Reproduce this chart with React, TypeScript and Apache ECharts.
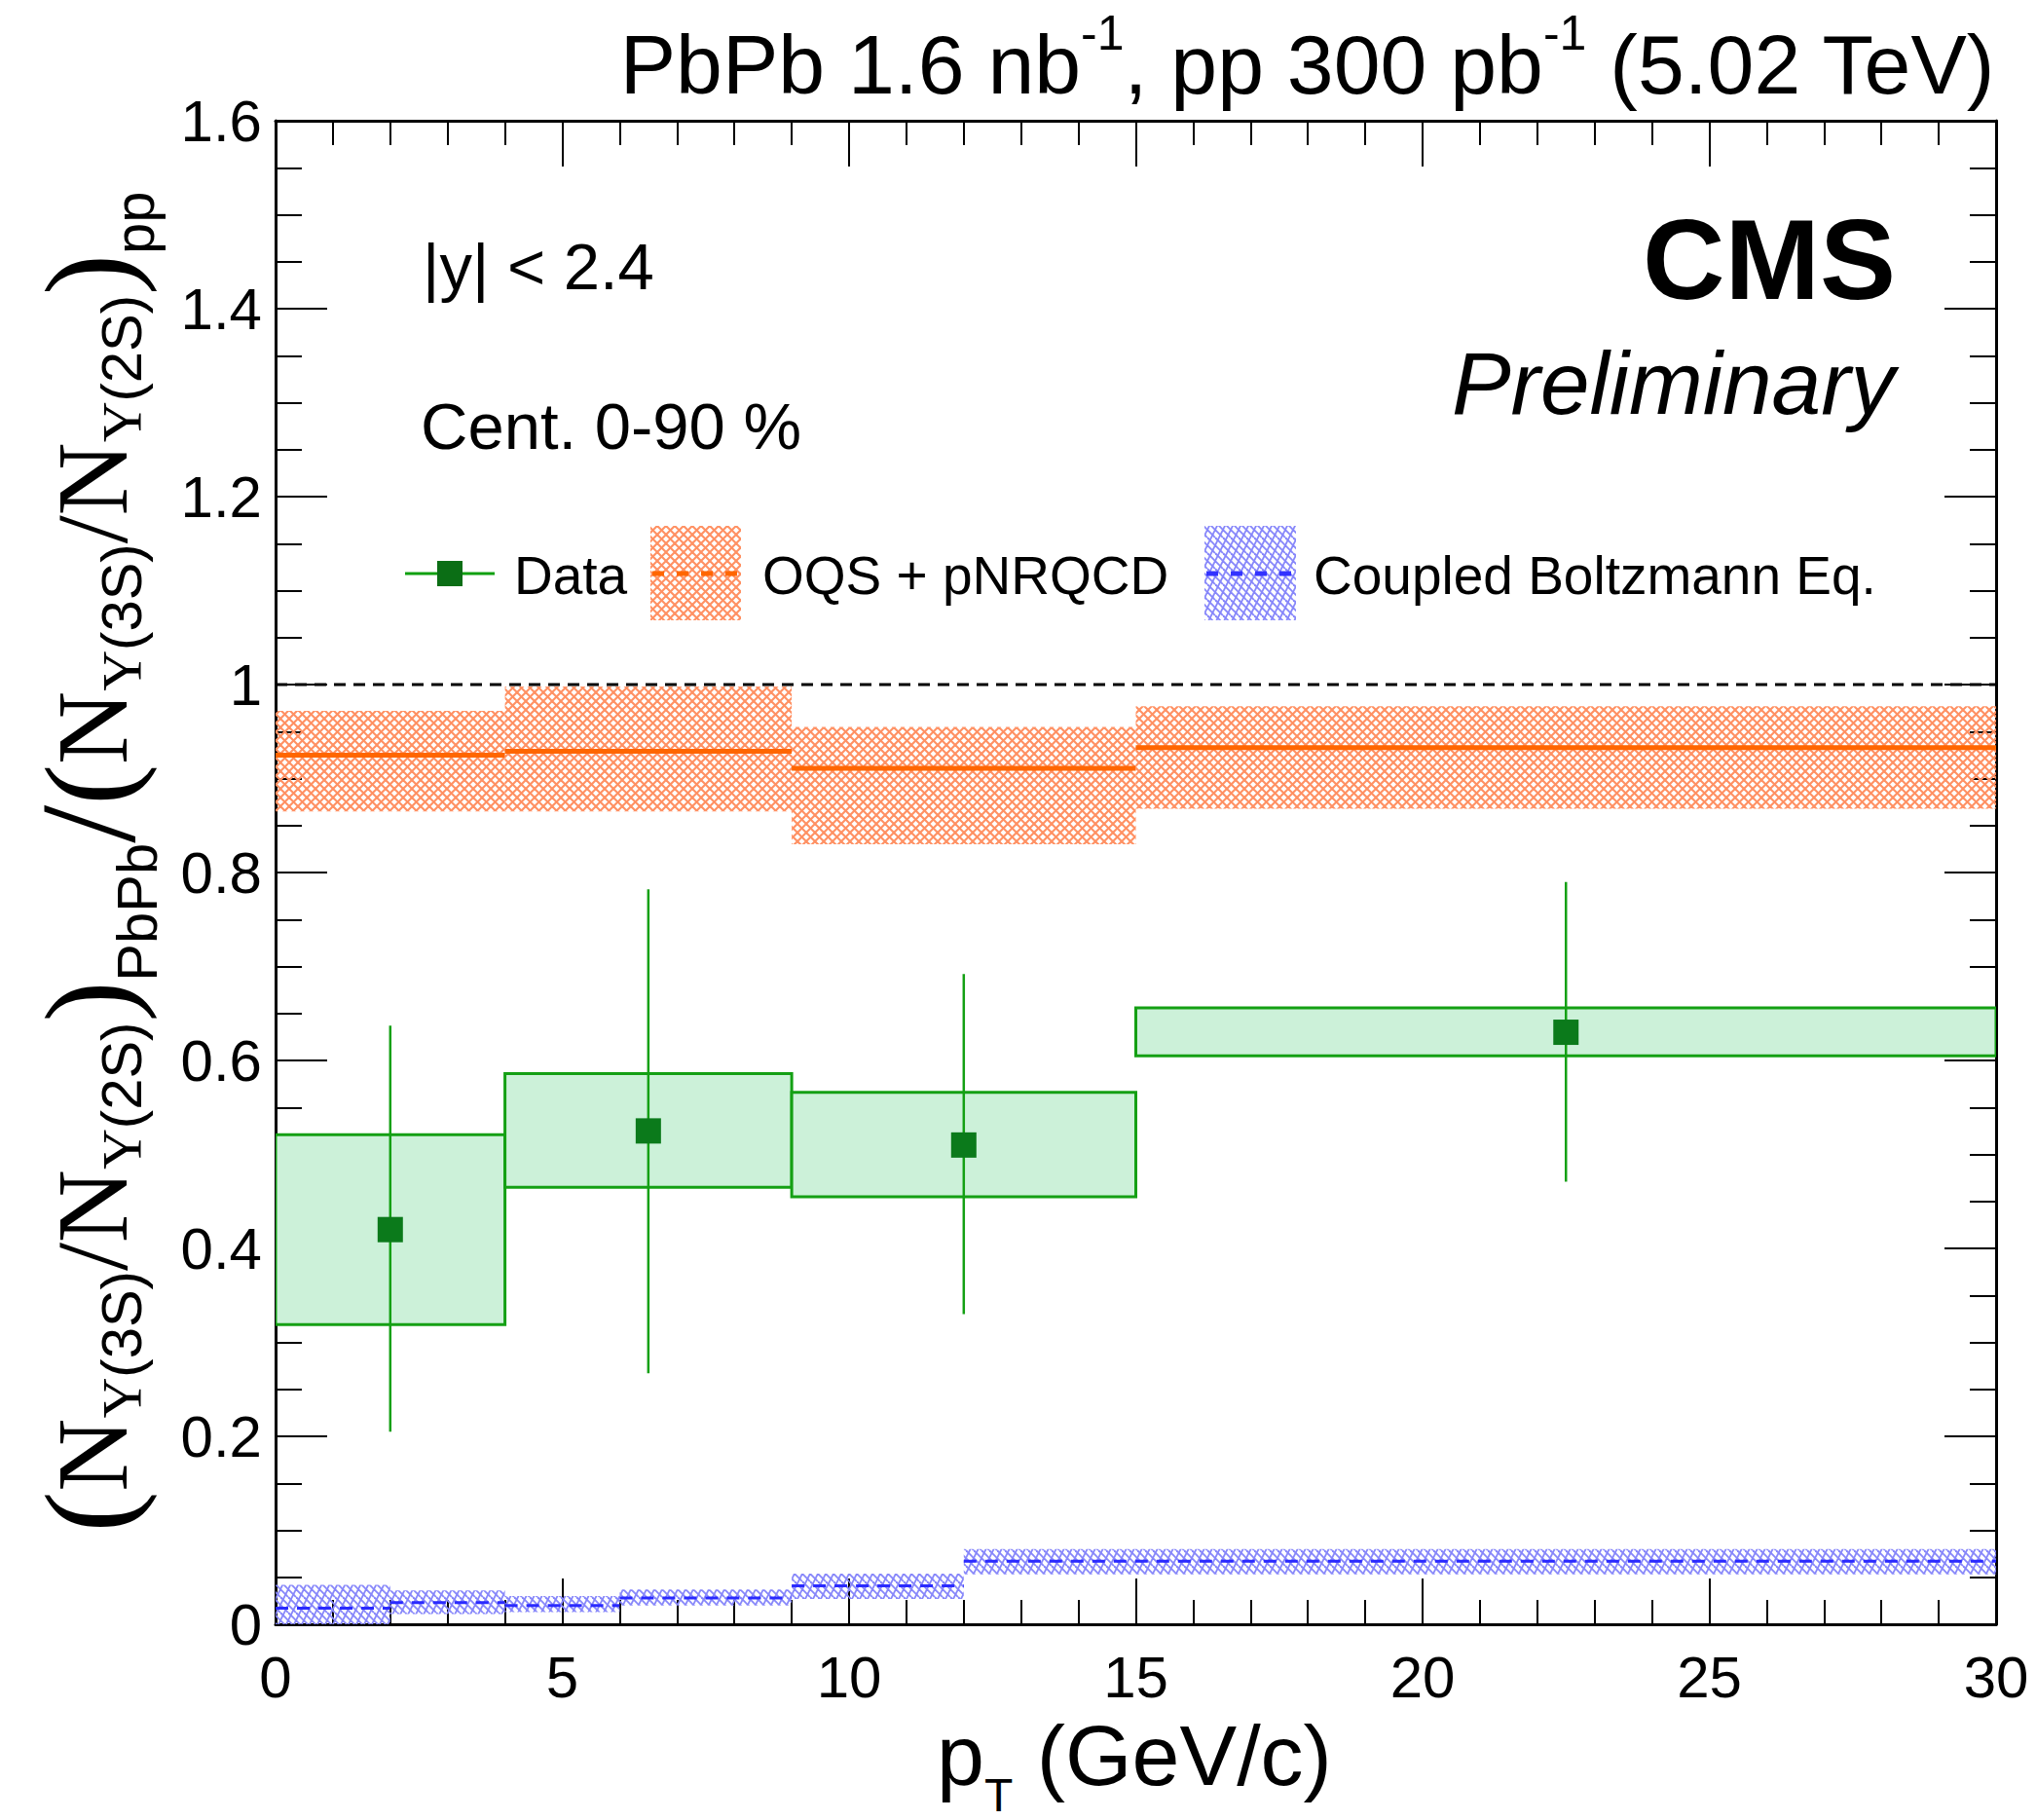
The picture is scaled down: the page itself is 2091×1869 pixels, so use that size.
import React, { useEffect, useRef } from 'react';
import * as echarts from 'echarts';

const W = 2091;
const H = 1869;

// ---------------- data ----------------
const dataBinLow = [0, 4, 9, 15];
const dataBinHigh = [4, 9, 15, 30];
const dataPt = [2, 6.5, 12, 22.5];
const dataVal = [0.42, 0.525, 0.51, 0.63];
const statLow = [0.205, 0.267, 0.33, 0.471];
const statHigh = [0.637, 0.782, 0.692, 0.79];
const systLow = [0.319, 0.465, 0.455, 0.605];
const systHigh = [0.521, 0.586, 0.566, 0.656];

const oqsBinLow = [0, 4, 9, 15];
const oqsBinHigh = [4, 9, 15, 30];
const oqsCentral = [0.925, 0.929, 0.911, 0.933];
const oqsLow = [0.865, 0.865, 0.83, 0.868];
const oqsHigh = [0.972, 0.998, 0.955, 0.977];

const cbeBinLow = [0, 2, 4, 6, 9, 12];
const cbeBinHigh = [2, 4, 6, 9, 12, 30];
const cbeCentral = [0.017, 0.023, 0.02, 0.028, 0.041, 0.067];
const cbeLow = [-0.008, 0.011, 0.013, 0.02, 0.027, 0.053];
const cbeHigh = [0.042, 0.036, 0.03, 0.037, 0.054, 0.08];

const unityX = [0, 30];
const unityY = 1;

const xRange = [0, 30];
const yRange = [0, 1.6];

// ---------------- text helpers ----------------
const SANS = '"Liberation Sans", Arial, Helvetica, sans-serif';
const SERIF = '"Liberation Serif", "Times New Roman", serif';

type Piece = { t: string; size: number; dy?: number; fam?: string; weight?: string; italic?: boolean };

let mctx: CanvasRenderingContext2D | null = null;
function textWidth(text: string, font: string) {
  if (!mctx) mctx = document.createElement('canvas').getContext('2d');
  mctx!.font = font;
  return mctx!.measureText(text).width;
}
function fontOf(p: Piece) {
  return `${p.italic ? 'italic ' : ''}${p.weight ? p.weight + ' ' : ''}${p.size}px ${p.fam || SANS}`;
}
function centralOff(size: number, fam?: string) {
  return (fam === SERIF ? 0.3375 : 0.3465) * size;
}
function textEl(text: string, x: number, baseline: number, size: number, opts: any = {}) {
  const p: Piece = { t: text, size, fam: opts.fam, weight: opts.weight, italic: opts.italic };
  const align = opts.align || 'left';
  return {
    type: 'text',
    x,
    y: baseline - centralOff(size, opts.fam),
    style: {
      text,
      font: fontOf(p),
      fill: opts.color || '#000',
      align,
      textAlign: align,
      verticalAlign: 'middle',
      textVerticalAlign: 'middle',
    },
  };
}
function layoutPieces(pieces: Piece[], color = '#000') {
  let x = 0;
  const children: any[] = [];
  for (const p of pieces) {
    const font = fontOf(p);
    children.push({
      type: 'text',
      x,
      y: (p.dy || 0) - centralOff(p.size, p.fam),
      style: {
        text: p.t,
        font,
        fill: color,
        align: 'left',
        textAlign: 'left',
        verticalAlign: 'middle',
        textVerticalAlign: 'middle',
      },
    });
    x += textWidth(p.t, font);
  }
  return { children, width: x };
}

// ---------------- patterns ----------------
function makeOqsPattern() {
  const s = 9;
  const c = document.createElement('canvas');
  c.width = s;
  c.height = s;
  const g = c.getContext('2d')!;
  g.strokeStyle = 'rgb(255,145,100)';
  g.lineWidth = 2.1;
  for (let k = -1; k <= 1; k++) {
    g.beginPath();
    g.moveTo(k * s, 0);
    g.lineTo(k * s + s, s);
    g.stroke();
    g.beginPath();
    g.moveTo(k * s, s);
    g.lineTo(k * s + s, 0);
    g.stroke();
  }
  return { image: c, repeat: 'repeat', imageWidth: s, imageHeight: s };
}
function makeCbePattern() {
  const w = 8;
  const h = 16;
  const c = document.createElement('canvas');
  c.width = w;
  c.height = h;
  const g = c.getContext('2d')!;
  g.strokeStyle = 'rgb(135,135,250)';
  g.lineWidth = 1.8;
  for (let k = -1; k <= 2; k++) {
    g.beginPath();
    g.moveTo(k * w, h);
    g.lineTo(k * w + w, 0);
    g.stroke();
  }
  for (let y = -16; y <= 16; y += 8) {
    g.beginPath();
    g.moveTo(0, y);
    g.lineTo(w, y + 8);
    g.stroke();
  }
  return { image: c, repeat: 'repeat', imageWidth: w, imageHeight: h };
}

// ---------------- option ----------------
function buildOption() {
  const oqsPat = makeOqsPattern();
  const cbePat = makeCbePattern();

  const tickStyle = { color: '#000', width: 2 };
  const axisLine = { show: true, onZero: false, lineStyle: { color: '#000', width: 3 } };
  const labelFont = { fontSize: 60, fontFamily: SANS, color: '#000' };

  const xBase = {
    type: 'value',
    min: xRange[0],
    max: xRange[1],
    interval: 5,
    axisLine,
    splitLine: { show: false },
    axisTick: { show: true, inside: true, length: 47, lineStyle: tickStyle },
    minorTick: { show: true, splitNumber: 5, length: 25, lineStyle: tickStyle },
  };
  const yBase = {
    type: 'value',
    min: yRange[0],
    max: yRange[1],
    interval: 0.2,
    axisLine,
    splitLine: { show: false },
    axisTick: { show: true, inside: true, length: 53, lineStyle: tickStyle },
    minorTick: { show: true, splitNumber: 4, length: 27, lineStyle: tickStyle },
  };

  const oqsData = oqsBinLow.map((x0, i) => [x0, oqsBinHigh[i], oqsLow[i], oqsHigh[i], oqsCentral[i]]);
  const cbeData = cbeBinLow.map((x0, i) => [x0, cbeBinHigh[i], cbeLow[i], cbeHigh[i], cbeCentral[i]]);
  const boxData = dataBinLow.map((x0, i) => [x0, dataBinHigh[i], systLow[i], systHigh[i]]);
  const errData = dataPt.map((x, i) => [x, statLow[i], statHigh[i]]);
  const ptData = dataPt.map((x, i) => [x, dataVal[i]]);

  // ---- graphic texts ----
  const graphics: any[] = [];

  // top-right luminosity title
  const title = layoutPieces([
    { t: 'PbPb 1.6 nb', size: 86 },
    { t: '-1', size: 50, dy: -45 },
    { t: ', pp 300 pb', size: 86 },
    { t: '-1', size: 50, dy: -45 },
    { t: ' (5.02 TeV)', size: 86 },
  ]);
  graphics.push({ type: 'group', x: 2050 - title.width, y: 96, children: title.children });

  // x-axis title
  const xt = layoutPieces([
    { t: 'p', size: 88 },
    { t: 'T', size: 48, dy: 27 },
    { t: ' (GeV/c)', size: 88 },
  ]);
  graphics.push({ type: 'group', x: 1165 - xt.width / 2, y: 1833, children: xt.children });

  // y-axis title (rotated)
  const ratio = (sub: string, subDy: number): Piece[] => [
    { t: '(', size: 126, dy: 4, fam: SERIF },
    { t: 'N', size: 104, fam: SERIF },
    { t: 'Υ', size: 58, dy: 15, fam: SERIF },
    { t: '(3S)', size: 58, dy: 15 },
    { t: '/', size: 104, fam: SERIF },
    { t: 'N', size: 104, fam: SERIF },
    { t: 'Υ', size: 58, dy: 15, fam: SERIF },
    { t: '(2S)', size: 58, dy: 15 },
    { t: ')', size: 126, dy: 4, fam: SERIF },
    { t: sub, size: 58, dy: subDy },
  ];
  const yt = layoutPieces([
    ...ratio('PbPb', 31),
    { t: '/', size: 140, dy: 8, fam: SERIF },
    ...ratio('pp', 28),
  ]);
  graphics.push({
    type: 'group',
    x: 130,
    y: 885 + yt.width / 2,
    rotation: Math.PI / 2,
    children: yt.children,
  });

  // in-plot labels
  graphics.push(textEl('|y| < 2.4', 434, 297, 67));
  graphics.push(textEl('Cent. 0-90 %', 432, 461, 67));
  graphics.push(textEl('CMS', 1947, 307, 117, { weight: 'bold', align: 'right' }));
  graphics.push(textEl('Preliminary', 1946, 425, 91, { italic: true, align: 'right' }));

  // legend
  const legY = 589;
  graphics.push({
    type: 'line',
    shape: { x1: 416, y1: legY, x2: 508, y2: legY },
    style: { stroke: '#10a010', lineWidth: 3 },
  });
  graphics.push({
    type: 'rect',
    shape: { x: 449, y: legY - 13, width: 26, height: 26 },
    style: { fill: '#0b6e15' },
  });
  graphics.push(textEl('Data', 528, 610, 55));

  graphics.push({
    type: 'rect',
    shape: { x: 668, y: 540, width: 93, height: 97 },
    style: { fill: oqsPat },
  });
  graphics.push({
    type: 'line',
    shape: { x1: 670, y1: legY, x2: 758, y2: legY },
    style: { stroke: '#ff6600', lineWidth: 5, lineDash: [12, 13] },
  });
  graphics.push(textEl('OQS + pNRQCD', 783, 610, 55));

  graphics.push({
    type: 'rect',
    shape: { x: 1237, y: 540, width: 94, height: 97 },
    style: { fill: cbePat },
  });
  graphics.push({
    type: 'line',
    shape: { x1: 1239, y1: legY, x2: 1327, y2: legY },
    style: { stroke: '#3333ff', lineWidth: 5, lineDash: [12, 13] },
  });
  graphics.push(textEl('Coupled Boltzmann Eq.', 1349, 610, 55));

  return {
    animation: false,
    backgroundColor: '#ffffff',
    grid: { left: 283, top: 124, width: 1767, height: 1544, containLabel: false, outerBoundsMode: 'none' },
    xAxis: [
      {
        ...xBase,
        position: 'bottom',
        axisLabel: { show: true, margin: 24, ...labelFont, formatter: (v: number) => String(Math.round(v * 100) / 100) },
      },
      { ...xBase, position: 'top', axisLabel: { show: false } },
    ],
    yAxis: [
      {
        ...yBase,
        position: 'left',
        axisLabel: { show: true, margin: 14, ...labelFont, formatter: (v: number) => String(Math.round(v * 100) / 100) },
      },
      { ...yBase, position: 'right', axisLabel: { show: false } },
    ],
    graphic: { elements: graphics },
    series: [
      {
        type: 'custom',
        name: 'OQS + pNRQCD',
        clip: true,
        z: 2,
        data: oqsData,
        encode: { x: [0, 1], y: [2, 3] },
        renderItem: (params: any, api: any) => {
          const a = api.coord([api.value(0), api.value(3)]);
          const b = api.coord([api.value(1), api.value(2)]);
          const c0 = api.coord([api.value(0), api.value(4)]);
          const c1 = api.coord([api.value(1), api.value(4)]);
          return {
            type: 'group',
            children: [
              { type: 'rect', shape: { x: a[0], y: a[1], width: b[0] - a[0], height: b[1] - a[1] }, style: { fill: oqsPat } },
              { type: 'line', shape: { x1: c0[0], y1: c0[1], x2: c1[0], y2: c1[1] }, style: { stroke: '#ff6600', lineWidth: 5 } },
            ],
          };
        },
      },
      {
        type: 'custom',
        name: 'Coupled Boltzmann Eq.',
        clip: true,
        z: 2,
        data: cbeData,
        encode: { x: [0, 1], y: [2, 3] },
        renderItem: (params: any, api: any) => {
          const a = api.coord([api.value(0), api.value(3)]);
          const b = api.coord([api.value(1), api.value(2)]);
          const c0 = api.coord([api.value(0), api.value(4)]);
          const c1 = api.coord([api.value(1), api.value(4)]);
          return {
            type: 'group',
            children: [
              { type: 'rect', shape: { x: a[0], y: a[1], width: b[0] - a[0], height: b[1] - a[1] }, style: { fill: cbePat } },
              { type: 'line', shape: { x1: c0[0], y1: c0[1], x2: c1[0], y2: c1[1] }, style: { stroke: '#2a2aff', lineWidth: 3, lineDash: [13, 9] } },
            ],
          };
        },
      },
      {
        type: 'line',
        name: 'unity',
        z: 3,
        symbol: 'none',
        data: unityX.map((x) => [x, unityY]),
        lineStyle: { color: '#000', width: 3, type: [12, 8] },
      },
      {
        type: 'custom',
        name: 'Data syst',
        clip: true,
        z: 3,
        data: boxData,
        encode: { x: [0, 1], y: [2, 3] },
        renderItem: (params: any, api: any) => {
          const a = api.coord([api.value(0), api.value(3)]);
          const b = api.coord([api.value(1), api.value(2)]);
          return {
            type: 'rect',
            shape: { x: a[0], y: a[1], width: b[0] - a[0], height: b[1] - a[1] },
            style: { fill: '#ccf1d9', stroke: '#14a014', lineWidth: 3 },
          };
        },
      },
      {
        type: 'custom',
        name: 'Data stat',
        clip: true,
        z: 4,
        data: errData,
        encode: { x: 0, y: [1, 2] },
        renderItem: (params: any, api: any) => {
          const a = api.coord([api.value(0), api.value(1)]);
          const b = api.coord([api.value(0), api.value(2)]);
          return {
            type: 'line',
            shape: { x1: a[0], y1: a[1], x2: b[0], y2: b[1] },
            style: { stroke: '#14a014', lineWidth: 2.5 },
          };
        },
      },
      {
        type: 'scatter',
        name: 'Data',
        z: 5,
        symbol: 'rect',
        symbolSize: 26,
        data: ptData,
        itemStyle: { color: '#0b7a1b', opacity: 1 },
      },
    ],
  };
}

export default function App() {
  const ref = useRef<HTMLDivElement>(null);
  useEffect(() => {
    document.body.style.margin = '0';
    const chart = echarts.init(ref.current as HTMLDivElement, null, { renderer: 'svg', width: W, height: H });
    chart.setOption(buildOption() as any);
    return () => {
      chart.dispose();
    };
  }, []);
  return (
    <div
      ref={ref}
      style={{ width: W, height: H, position: 'absolute', left: 0, top: 0, background: '#fff' }}
    />
  );
}
